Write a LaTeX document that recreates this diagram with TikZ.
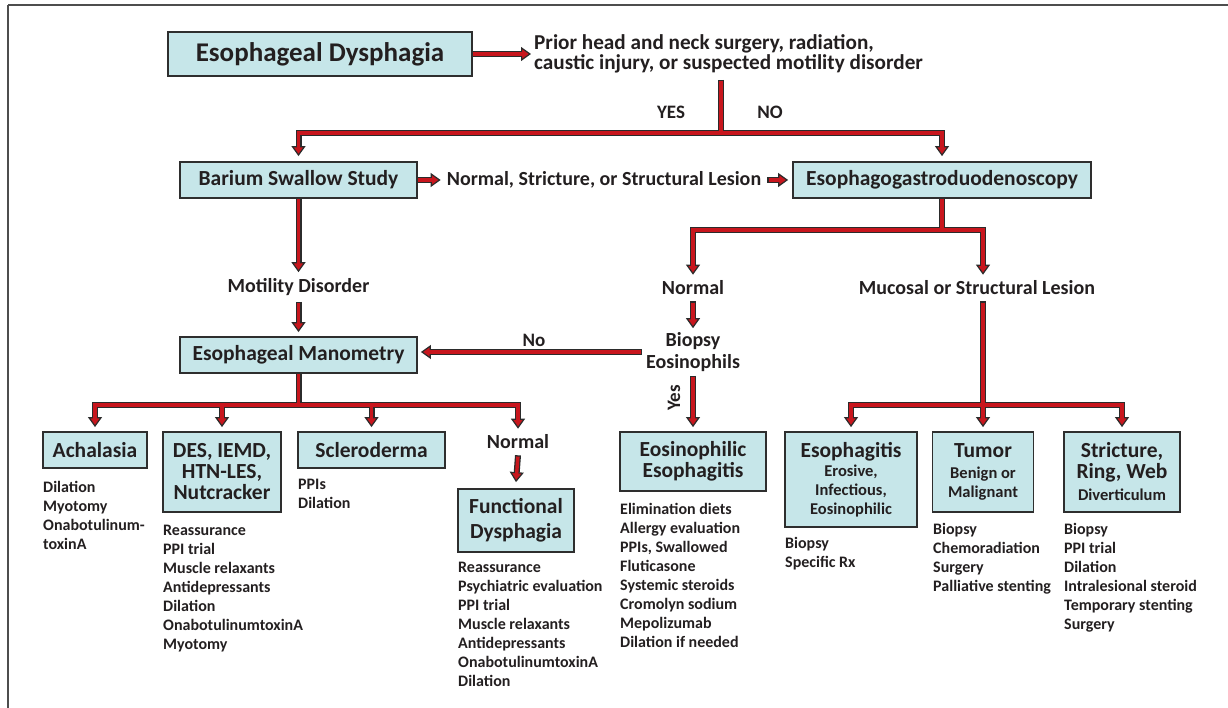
\documentclass[tikz,border=0pt]{standalone}
\usepackage{fontspec}
\setmainfont{Carlito}
\usetikzlibrary{arrows.meta}
\definecolor{boxfill}{HTML}{C6E6E9}
\definecolor{boxline}{HTML}{2E2E2E}
\definecolor{arrowred}{HTML}{C8161D}
\definecolor{edgec}{HTML}{2B2B2B}
\definecolor{txt}{HTML}{231F20}
\definecolor{framec}{HTML}{4D4D4D}
\newcommand\fBig{\bfseries\fontsize{27}{28}\selectfont}
\newcommand\fTitle{\bfseries\fontsize{21.5}{21}\selectfont}
\newcommand\fMid{\bfseries\fontsize{20}{22}\selectfont}
\newcommand\fPrior{\bfseries\fontsize{21.2}{20}\selectfont}
\newcommand\fSub{\bfseries\fontsize{16.5}{19}\selectfont}
\newcommand\fList{\bfseries\fontsize{16}{19}\selectfont}
\newcommand\fLab{\bfseries\fontsize{19}{21}\selectfont}
\newcommand\myconns{%
 \draw[conn,arr] (ed.east) -- (prior.west);
 \draw[conn,opn,arr] (stemtop) -- (jtop) -| ([yshift=5pt]barium.north);
 \draw[conn,arr] (jtop) -| ([yshift=5pt]egd.north);
 \draw[conn,arr] (barium.east) -- (nsl.west);
 \draw[conn,opn,arr] (nsl.east) -- ([xshift=-4pt]egd.west);
 \draw[conn,arr] (barium.south) -- (motil.north);
 \draw[conn,opn,arr] (motil.south) -- ([yshift=4pt]mano.north);
 \draw[conn] (mano.south) -- (jm);
 \draw[conn,arr] (jm) -| ([yshift=4pt]achal.north);
 \draw[conn,arr] (jm) -| (nrm2.north);
 \draw[conn,arr] (des.north |- jm) -- ([yshift=4pt]des.north);
 \draw[conn,arr] (sclero.north |- jm) -- ([yshift=4pt]sclero.north);
 \draw[conn,opn,arr] (nrm2.south) -- ([yshift=6pt]func.north);
 \draw[conn] (egd.south) -- (je);
 \draw[conn,arr] (je) -| (nrm1.north);
 \draw[conn,arr] (je) -| (mucosal.north -| jr);
 \draw[conn,opn,arr] (nrm1.south) -- (biopsy.north);
 \draw[conn,opn,arr] (biopsy.west) -- ([xshift=3pt]biopsy.west -| mano.east);
 \draw[conn,opn,arr] (biopsy.south) -- ([yshift=4pt]eoe.north);
 \draw[conn,opn] (mucosal.south -| jr) -- (jr);
 \draw[conn,arr] (jr) -| ([yshift=4pt]esoph.north);
 \draw[conn,arr] (jr) -| ([yshift=4pt]strict.north);
 \draw[conn,arr] (jr) -- ([yshift=4pt]tumor.north);
}
\begin{document}
\begin{tikzpicture}[x=1pt,y=-1pt,
  every node/.style={text=txt},
  box/.style={draw=boxline, line width=1.8pt, fill=boxfill, font=\fTitle, align=center, inner sep=2pt},
  midtext/.style={font=\fMid, align=center, inner sep=3pt},
  lab/.style={font=\fLab, inner sep=1pt},
  listtext/.style={font=\fList, align=left, anchor=north west, inner sep=0pt},
  framel/.style={draw=framec, line width=1.3pt}]
\useasboundingbox (0,0) rectangle (1228,708);
\draw[framel] (8,5) -- (1228,5);
\draw[framel] (8,5) -- (8,708);

% boxes
\node[box, font=\fBig, minimum width=304pt, minimum height=44pt] (ed) at (320,54) {Esophageal Dysphagia};
\node[box, minimum width=237pt, minimum height=36pt] (barium) at (298.5,180) {Barium Swallow Study};
\node[box, minimum width=298pt, minimum height=36pt] (egd) at (942,180) {Esophagogastroduodenoscopy};
\node[box, minimum width=237pt, minimum height=36pt] (mano) at (298.5,355) {Esophageal Manometry};
\node[box, minimum width=104pt, minimum height=36pt] (achal) at (95,450) {Achalasia};
\node[box, minimum width=118pt, minimum height=80pt] (des) at (222,472) {DES, IEMD,\\HTN-LES,\\Nutcracker};
\node[box, minimum width=147pt, minimum height=36pt] (sclero) at (371.5,450) {Scleroderma};
\node[box, minimum width=116pt, minimum height=63pt] (func) at (516,520.5) {Functional\\[4pt]Dysphagia};
\node[box, minimum width=146pt, minimum height=59pt] (eoe) at (693,461.5) {Eosinophilic\\Esophagitis};
\node[box, minimum width=132pt, minimum height=95pt] (esoph) at (851,479.5) {Esophagitis\\[-2pt]{\fSub Erosive,}\\[-2pt]{\fSub Infectious,}\\[-2pt]{\fSub Eosinophilic}};
\node[box, minimum width=101pt, minimum height=80pt] (tumor) at (983,472) {Tumor\\{\fSub Benign or}\\[-2pt]{\fSub Malignant}};
\node[box, minimum width=116pt, minimum height=80pt] (strict) at (1122,472) {Stricture,\\Ring, Web\\[1pt]{\fSub Diverticulum}};

% free texts
\node[font=\fPrior, align=left, anchor=west, inner sep=3pt] (prior) at (531,54) {Prior head and neck surgery, radiation,\\caustic injury, or suspected motility disorder};
\node[lab] (yes1) at (671,112) {YES};
\node[lab] (no1) at (770,112) {NO};
\node[midtext, inner sep=6pt] (nsl) at (604,180) {Normal, Stricture, or Structural Lesion};
\node[midtext, inner sep=6pt] (motil) at (298.5,287) {Motility Disorder};
\node[midtext, inner sep=6pt] (nrm1) at (693,288) {Normal};
\node[midtext, inner sep=6pt] (mucosal) at (977,288) {Mucosal or Structural Lesion};
\node[midtext, inner sep=4pt] (biopsy) at (693,352) {Biopsy\\Eosinophils};
\node[lab] (no2) at (534,340) {No};
\node[lab, rotate=90] (yes2) at (674,398) {Yes};
\node[midtext, inner sep=6pt] (nrm2) at (518,442) {Normal};

% lists
\node[listtext] (lachal) at (43,478.7) {\strut Dilation\\Myotomy\\Onabotulinum-\\toxinA};
\node[listtext] (ldes) at (163,521.7) {\strut Reassurance\\PPI trial\\Muscle relaxants\\Antidepressants\\Dilation\\OnabotulinumtoxinA\\Myotomy};
\node[listtext] (lsclero) at (298,475.7) {\strut PPIs\\Dilation};
\node[listtext] (lfunc) at (458,558.7) {\strut Reassurance\\Psychiatric evaluation\\PPI trial\\Muscle relaxants\\Antidepressants\\OnabotulinumtoxinA\\Dilation};
\node[listtext] (leoe) at (620,500.7) {\strut Elimination diets\\Allergy evaluation\\PPIs, Swallowed\\Fluticasone\\Systemic steroids\\Cromolyn sodium\\Mepolizumab\\Dilation if needed};
\node[listtext] (lesoph) at (785,534.7) {\strut Biopsy\\Specific Rx};
\node[listtext] (ltumor) at (933,520.7) {\strut Biopsy\\Chemoradiation\\Surgery\\Palliative stenting};
\node[listtext] (lstrict) at (1064,520.7) {\strut Biopsy\\PPI trial\\Dilation\\Intralesional steroid\\Temporary stenting\\Surgery};

% junction coordinates
\coordinate (stemtop) at (721,80);
\coordinate (jtop) at (721,133);
\coordinate (jm) at (298.5,405);
\coordinate (je) at (942,230);
\coordinate (jr) at (983,405);

% connectors: outline pass, then red pass
\begin{scope}
 \tikzset{conn/.style={draw=edgec, line width=6pt, line join=miter},
   opn/.style={},
   arr/.style={-{Triangle[length=10pt,width=14pt,line width=1.2pt,fill=arrowred]}}}
 \myconns
\end{scope}
\begin{scope}
 \tikzset{conn/.style={draw=arrowred, line width=3.4pt, line join=miter},
   opn/.style={shorten <=1.3pt},
   arr/.style={shorten >=8pt}}
 \myconns
\end{scope}
\end{tikzpicture}
\end{document}
